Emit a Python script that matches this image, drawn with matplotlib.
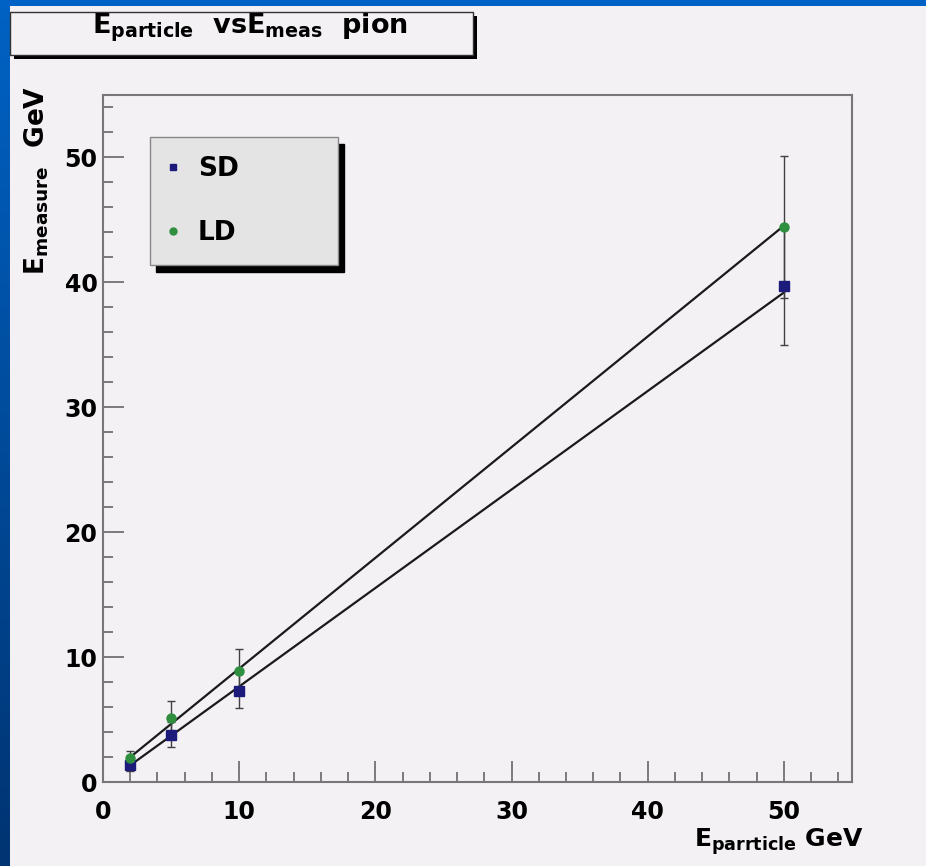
import numpy as np
import matplotlib
matplotlib.use("Agg")
import matplotlib.pyplot as plt
from matplotlib.patches import Rectangle
from matplotlib.colors import LinearSegmentedColormap
from matplotlib.ticker import MultipleLocator

# ROOT-like bold sans look
plt.rcParams['font.family'] = ['DejaVu Sans']
plt.rcParams['font.weight'] = 'bold'
plt.rcParams['mathtext.fontset'] = 'dejavusans'

# data
e_particle = [2, 5, 10, 50]
sd_meas = [1.35, 3.8, 7.3, 39.7]
sd_err = [0.5, 1.0, 1.4, 4.7]
ld_meas = [1.95, 5.1, 8.85, 44.45]
ld_err = [0.5, 1.4, 1.8, 5.7]

title_txt = r"$\mathbf{E_{particle}\ \ vsE_{meas}\ \ pion}$"
xlabel_txt = r"$\mathbf{E_{parrticle}}$ GeV"
ylabel_txt = r"$\mathbf{E_{measure}}$  GeV"

canvas_col = '#f4f1f5'
sd_col = '#1c1a7a'
ld_col = '#2f8f3f'

W, H = 926, 866
fig = plt.figure(figsize=(W / 100, H / 100), dpi=100, facecolor=canvas_col)

# blue slide border (left gradient + top strip)
bg = fig.add_axes([0, 0, 10 / W, 1])
grad = np.linspace(0, 1, 256).reshape(-1, 1)
cmap = LinearSegmentedColormap.from_list('slide', ['#0062c4', '#003472'])
bg.imshow(grad, aspect='auto', cmap=cmap, extent=[0, 1, 0, 1], origin='upper')
bg.set_axis_off()
fig.add_artist(Rectangle((0, 1 - 6 / H), 1, 6 / H, transform=fig.transFigure,
                         facecolor='#0062c4', edgecolor='none'))

# title box with shadow
fig.add_artist(Rectangle((14 / W, 1 - 59 / H), 463 / W, 43 / H, transform=fig.transFigure,
                         facecolor='black', edgecolor='none', zorder=2))
fig.add_artist(Rectangle((10 / W, 1 - 55 / H), 463 / W, 43 / H, transform=fig.transFigure,
                         facecolor=canvas_col, edgecolor='#333333', lw=1.0, zorder=3))
fig.text(250 / W, 1 - 33 / H, title_txt, fontsize=19.5, ha='center', va='baseline', zorder=4)

# main axes
ax = fig.add_axes([103 / W, 1 - 782 / H, 749 / W, 687 / H])
ax.set_facecolor(canvas_col)

for y_, e_, c_, m_ in [(sd_meas, sd_err, sd_col, 's'), (ld_meas, ld_err, ld_col, 'o')]:
    ax.errorbar(e_particle, y_, yerr=e_, fmt=m_, color=c_, ms=6.5, ecolor='#404040',
                elinewidth=1.0, capsize=3, capthick=1.0, zorder=3)
    k, b = np.polyfit(e_particle, y_, 1, w=1.0 / np.asarray(e_))
    xx = np.array([min(e_particle), max(e_particle)])
    ax.plot(xx, k * xx + b, color='#1a1a1a', lw=1.6, zorder=2)

ax.set_xlim(0, 55)
ax.set_ylim(0, 55)
ax.xaxis.set_major_locator(MultipleLocator(10))
ax.xaxis.set_minor_locator(MultipleLocator(2))
ax.yaxis.set_major_locator(MultipleLocator(10))
ax.yaxis.set_minor_locator(MultipleLocator(2))
ax.tick_params(which='both', direction='in', color='#666666', width=1.2)
ax.tick_params(which='major', length=15)
ax.tick_params(which='minor', length=7.5)
ax.tick_params(axis='x', pad=13, labelsize=17)
ax.tick_params(axis='y', pad=4, labelsize=17)
for s in ax.spines.values():
    s.set_color('#777777')
    s.set_linewidth(1.5)

# legend with ROOT-style drop shadow
h_sd = ax.errorbar([], [], fmt='s', color=sd_col, ms=5)[0]
h_ld = ax.errorbar([], [], fmt='o', color=ld_col, ms=5)[0]
leg = ax.legend([h_sd, h_ld], ['SD', 'LD'], loc='upper left',
                bbox_to_anchor=(47 / 749, 1 - 42 / 687 - 128 / 687, 188 / 749, 128 / 687),
                mode='expand', borderaxespad=0, fontsize=19, borderpad=0.72,
                labelspacing=1.45, handlelength=0.3, handletextpad=0.8,
                fancybox=False, framealpha=1, facecolor='#e4e4e4', edgecolor='#888888',
                shadow={'ox': 4, 'oy': -5, 'shade': 1, 'alpha': 1})
leg.get_frame().set_linewidth(1.0)

# axis titles
fig.text(864 / W, 1 - 847 / H, xlabel_txt, fontsize=18, ha='right', va='baseline')
fig.text(37 / W, 1 - 86 / H, ylabel_txt, fontsize=19, ha='center', va='top', rotation=90)

fig.savefig('out.png', dpi=100, facecolor=canvas_col)
